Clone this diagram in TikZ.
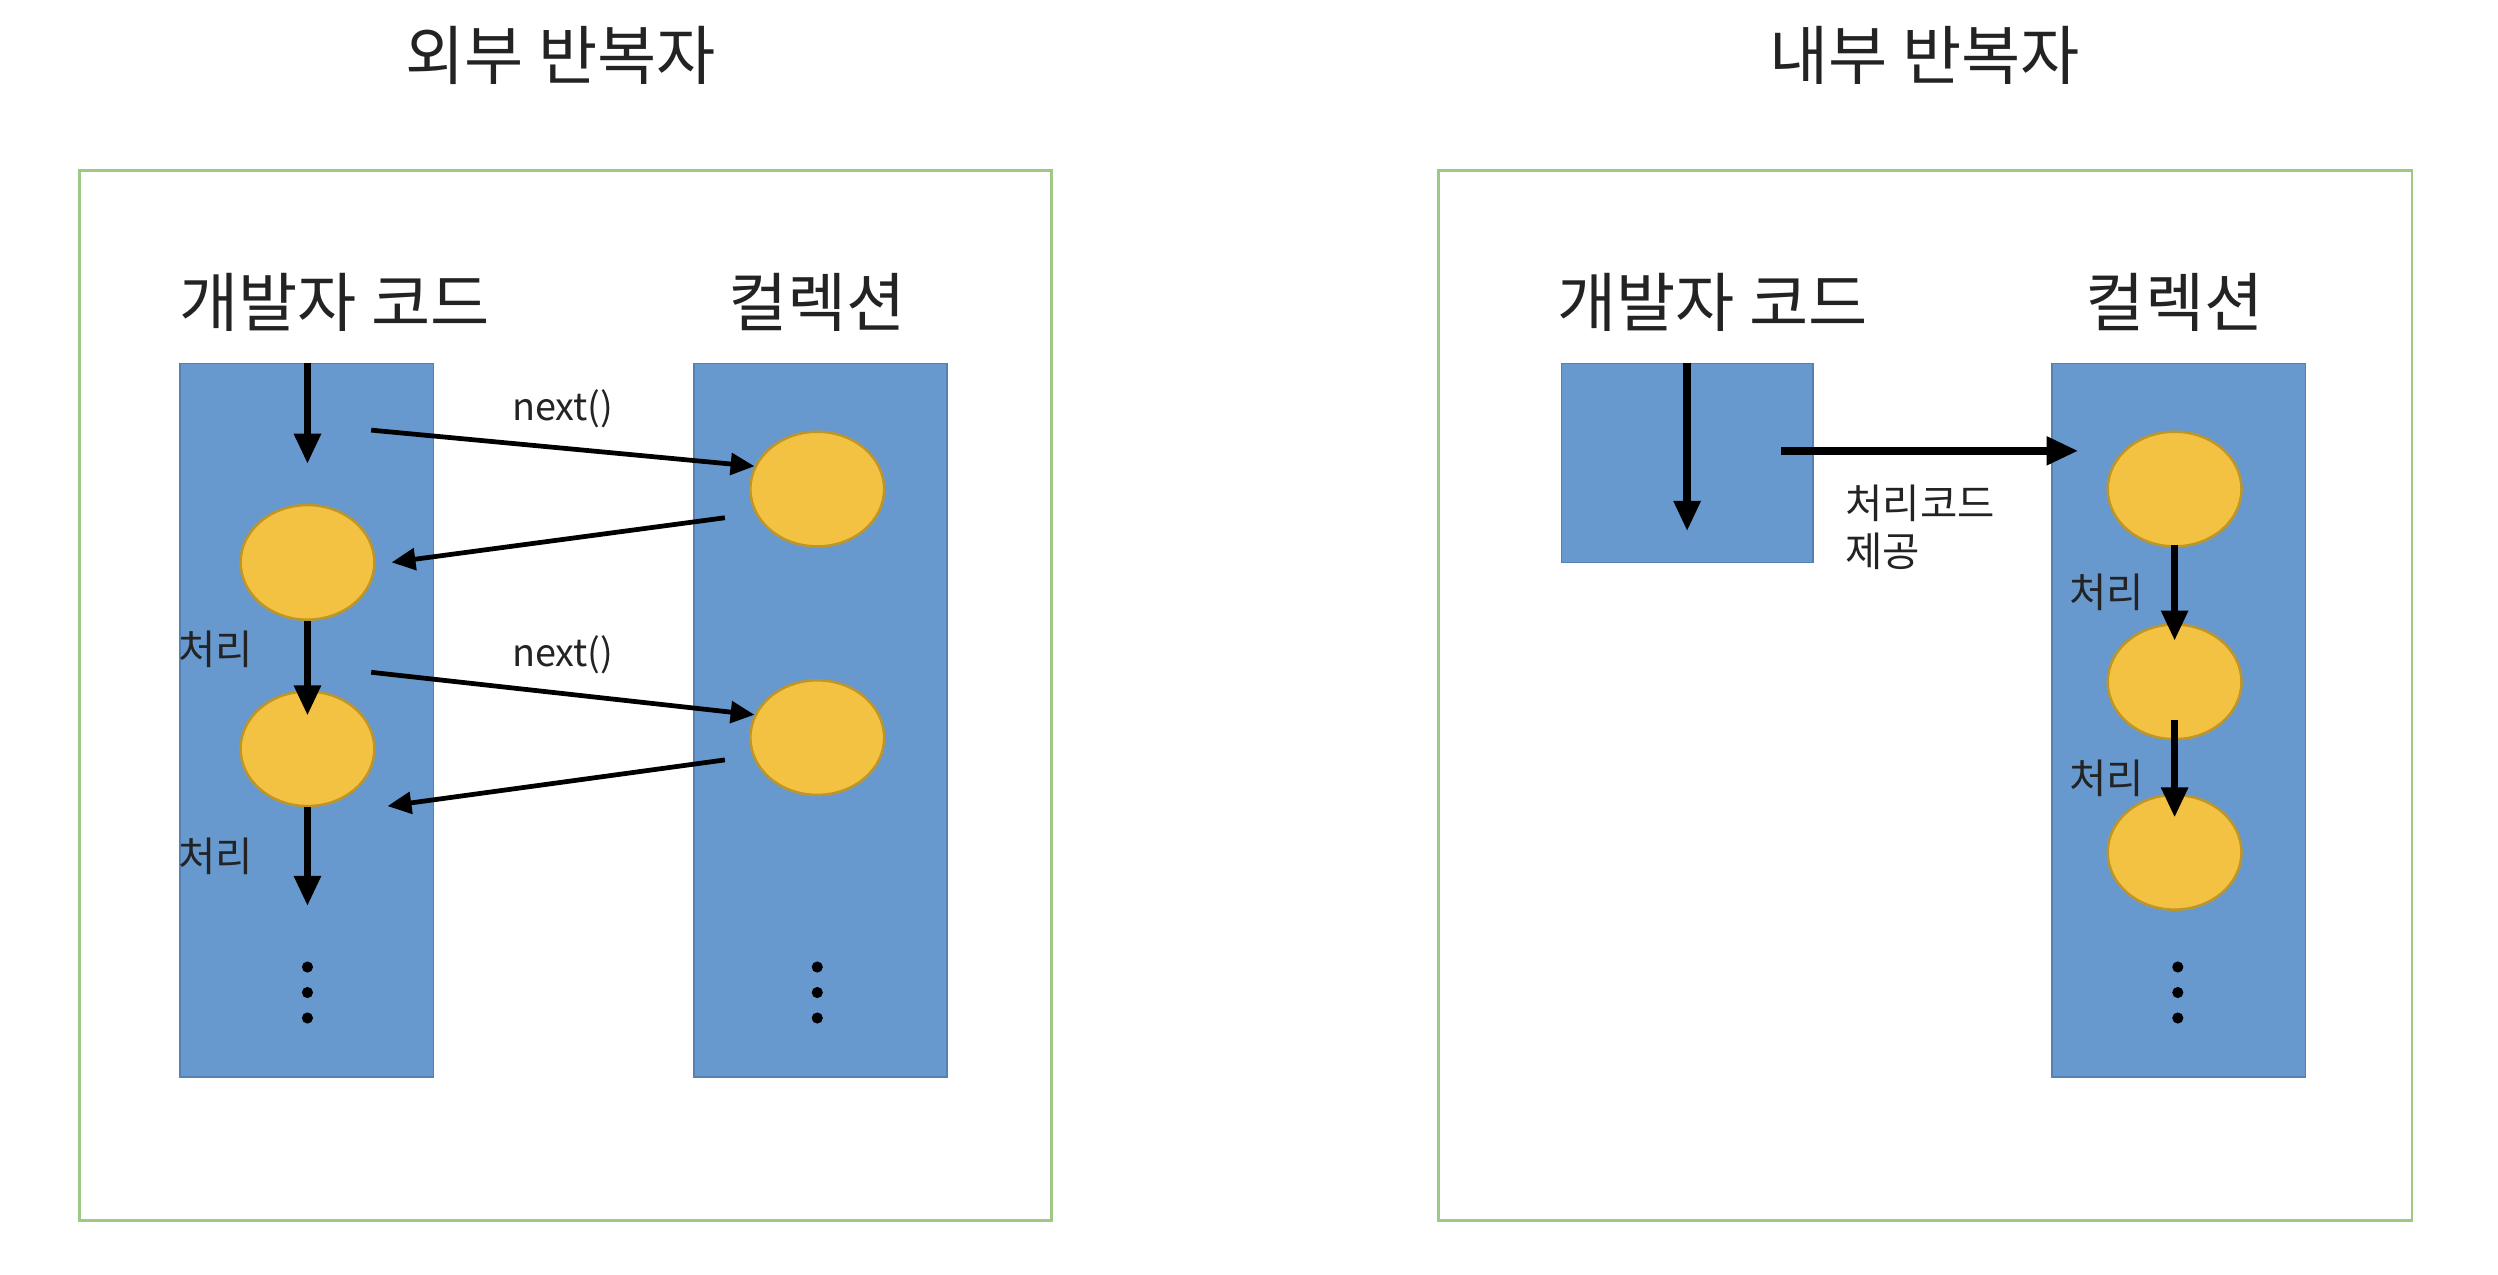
\documentclass[tikz,border=0pt]{standalone}
\usepackage{fontspec}
\setmainfont{Noto Sans CJK KR}
\usetikzlibrary{arrows.meta,positioning,shapes.geometric}
\definecolor{colblue}{RGB}{103,153,207}
\definecolor{coledge}{RGB}{84,128,180}
\definecolor{itemgold}{RGB}{244,194,66}
\definecolor{itemedge}{RGB}{190,150,40}
\definecolor{framegreen}{RGB}{160,200,130}
\definecolor{inkgray}{RGB}{35,35,35}

\begin{document}
\begin{tikzpicture}[x=0.02cm,y=-0.02cm,
   frame/.style={draw=framegreen,line width=1pt},
   title/.style={text=inkgray,font=\fontsize{23pt}{27pt}\selectfont},
   head/.style={text=inkgray,font=\fontsize{23pt}{27pt}\selectfont},
   tag/.style={text=inkgray,inner sep=0pt,font=\fontsize{14.5pt}{17pt}\selectfont},
   col/.style={draw=coledge,fill=colblue,line width=0.5pt,minimum width=3.18cm,inner sep=0pt},
   item/.style={ellipse,draw=itemedge,fill=itemgold,line width=0.9pt,minimum width=1.68cm,minimum height=1.44cm,inner sep=0pt},
   flow/.style={line width=2.6pt,-{Triangle[length=0.38cm,width=0.32cm]}},
   call/.style={line width=1.7pt,-{Triangle[length=0.3cm,width=0.27cm]}},
   give/.style={line width=2.8pt,-{Triangle[length=0.4cm,width=0.34cm]}}]
   \useasboundingbox (0,0) rectangle (1568,800);
   \draw[frame] (50,107) rectangle (660,766);
   \draw[frame] (903,107) rectangle (1514,766);
   \node[title] (tExt) at (352,35) {외부 반복자};
   \node[title] (tInt) at (1208,35) {내부 반복자};

   % external iterator
   \node[head] (hDevL) at (210,190) {개발자 코드};
   \node[head] (hColL) at (513,190) {컬렉션};
   \node[col,minimum height=8.96cm] (devL) at (192.5,452) {};
   \node[col,minimum height=8.96cm] (colL) at (515,452) {};
   \node[item] (a1) at (193,353) {};
   \node[item] (a2) at (193,470) {};
   \node[item] (b1) at (513,307) {};
   \node[item] (b2) at (513,463) {};
   \draw[flow] (devL.north -| a1) -- ([yshift=0.5cm]a1.north);
   \draw[flow] (a1.south) -- node[tag,pos=0.3,left=0.64cm]{처리} ([yshift=-0.32cm]a2.north);
   \draw[flow] (a2.south) -- node[tag,midway,left=0.64cm]{처리} ([yshift=-1.24cm]a2.south);
   \coordinate (q1) at (233,270);
   \coordinate (r1) at (455,325);
   \coordinate (q2) at (233,422);
   \coordinate (r2) at (455,477);
   \draw[call] (q1) -- node[tag,above=0.22cm,font=\fontsize{13.5pt}{16pt}\selectfont]{next()} (b1.160);
   \draw[call] (r1) -- ([xshift=0.2cm]a1.east);
   \draw[call] (q2) -- node[tag,above=0.22cm,font=\fontsize{13.5pt}{16pt}\selectfont]{next()} (b2.160);
   \draw[call] (r2) -- ([shift={(0.4cm,-0.2cm)}]a2.south east);
   \foreach \y in {607,623,639} {
      \fill (193,\y) circle (0.07cm);
      \fill (513,\y) circle (0.07cm);
   }

   % internal iterator
   \node[head] (hDevR) at (1075,190) {개발자 코드};
   \node[head] (hColR) at (1365,190) {컬렉션};
   \node[col,minimum width=3.16cm,minimum height=2.5cm] (devR) at (1059,290.5) {};
   \node[col,minimum height=8.96cm] (colR) at (1367.5,452) {};
   \node[item] (c1) at (1365,307) {};
   \node[item] (c2) at (1365,428) {};
   \node[item] (c3) at (1365,535) {};
   \draw[flow] (devR.north) -- ([yshift=0.4cm]devR.south);
   \coordinate (hand) at (1118,283);
   \draw[give] (hand) -- ([xshift=0.34cm]hand -| colR.west);
   \node[tag,align=left,below right=0.42cm and 0.8cm of hand] (code) {처리코드\\제공};
   \draw[flow] ([yshift=0.04cm]c1.south) -- node[tag,midway,left=0.34cm]{처리} ([yshift=-0.22cm]c2.north);
   \draw[flow] ([yshift=0.26cm]c2.south) -- node[tag,pos=0.6,left=0.34cm]{처리} ([yshift=-0.3cm]c3.north);
   \foreach \y in {607,623,639}
      \fill (1367,\y) circle (0.07cm);
\end{tikzpicture}
\end{document}
